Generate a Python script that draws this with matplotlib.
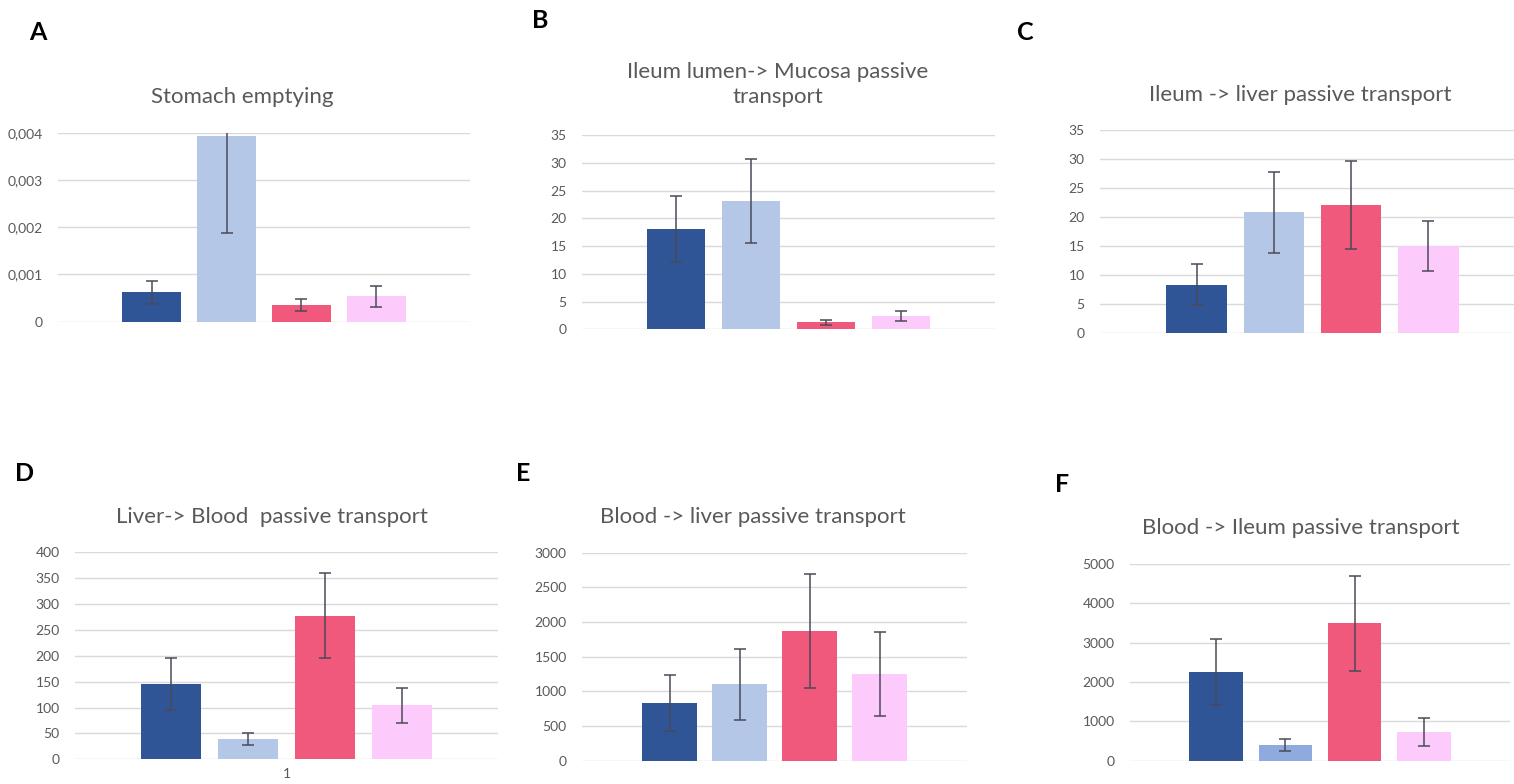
# Six bar panels (A-F): passive transport / emptying rates, mean +- error
import numpy as np
import matplotlib.pyplot as plt
from matplotlib.ticker import FuncFormatter

plt.rcParams['font.family'] = ['Lato', 'DejaVu Sans']

W, H = 1514, 784

# %% data
a_vals = [0.00062, 0.00392, 0.00035, 0.00054]
a_err = [0.00025, 0.00205, 0.00013, 0.00022]
b_vals = [18.1, 23.1, 1.26, 2.45]
b_err = [5.9, 7.5, 0.4, 0.9]
c_vals = [8.4, 20.8, 22.1, 15.0]
c_err = [3.45, 7.0, 7.6, 4.3]
d_vals = [145, 38.6, 277.5, 104]
d_err = [50, 11.5, 82, 34]
e_vals = [828, 1102, 1871, 1255]
e_err = [405, 514, 827, 606]
f_vals = [2248, 400, 3493, 737]
f_err = [840, 160, 1210, 357]

titles = ['Stomach emptying', 'Ileum lumen-> Mucosa passive\ntransport',
          'Ileum -> liver passive transport', 'Liver-> Blood  passive transport',
          'Blood -> liver passive transport', 'Blood -> Ileum passive transport']
letters = ['A', 'B', 'C', 'D', 'E', 'F']
y_max = [0.004, 35, 35, 400, 3000, 5000]
y_step = [0.001, 5, 5, 50, 500, 1000]

COLS = ['#2f5597', '#b4c7e7', '#f0587c', '#fdcbfb']
COLS_F = ['#2f5597', '#8faadc', '#f0587c', '#fdcbfb']

# %% layout in pixels: plot-area left, right, top gridline, zero line
boxes = [(58, 470, 132.7, 321.7), (582, 995, 135, 329.3),
         (1100, 1525, 130, 333.3), (75, 498, 552.3, 759.3),
         (582, 967, 552.7, 760.7), (1130, 1510, 564, 760.7)]
title_xy = [(242, 97), (778, 84.5), (1300, 95), (272, 517), (753, 517), (1301, 528)]
letter_xy = [(38, 33), (540, 20), (1025, 32), (25, 473), (523, 473), (1062, 485)]

panels = [(a_vals, a_err), (b_vals, b_err), (c_vals, c_err),
          (d_vals, d_err), (e_vals, e_err), (f_vals, f_err)]

fig = plt.figure(figsize=(W / 100, H / 100), dpi=100)


def comma_fmt(v, pos):
    if abs(v) < 1e-12:
        return '0'
    return f'{v:.3f}'.replace('.', ',')


for i, (vals, err) in enumerate(panels):
    l, r, t, z = boxes[i]
    ax = fig.add_axes([l / W, (H - z) / H, (r - l) / W, (z - t) / H])
    x = np.arange(len(vals))
    cols = COLS_F if i == 5 else COLS
    ax.bar(x, vals, width=0.78, color=cols, zorder=2)
    ax.errorbar(x, vals, yerr=err, fmt='none', ecolor='#4a4a58',
                elinewidth=1.1, capsize=4.5, capthick=1.1, zorder=3)
    ax.set_xlim(1.5 - 2.75, 1.5 + 2.75)
    ax.set_ylim(0, y_max[i])
    ax.set_yticks(np.arange(0, y_max[i] + y_step[i] / 2, y_step[i]))
    if i == 0:
        ax.yaxis.set_major_formatter(FuncFormatter(comma_fmt))
    ax.grid(axis='y', color='#d9d9d9', lw=1, zorder=0)
    ax.set_axisbelow(True)
    for s in ax.spines.values():
        s.set_visible(False)
    ax.tick_params(axis='y', length=0, pad=11, labelsize=10, labelcolor='#595959')
    if i == 3:
        ax.set_xticks([1.5])
        ax.set_xticklabels(['1'])
        ax.tick_params(axis='x', length=0, pad=6, labelsize=10, labelcolor='#595959')
    else:
        ax.set_xticks([])
    tx, ty = title_xy[i]
    fig.text(tx / W, 1 - ty / H, titles[i], ha='center', va='center',
             fontsize=16, color='#595959', linespacing=1.3)
    lx, ly = letter_xy[i]
    fig.text(lx / W, 1 - ly / H, letters[i], ha='center', va='center',
             fontsize=18, fontweight='bold', color='black')

fig.savefig('out.png', dpi=100, facecolor='white')
